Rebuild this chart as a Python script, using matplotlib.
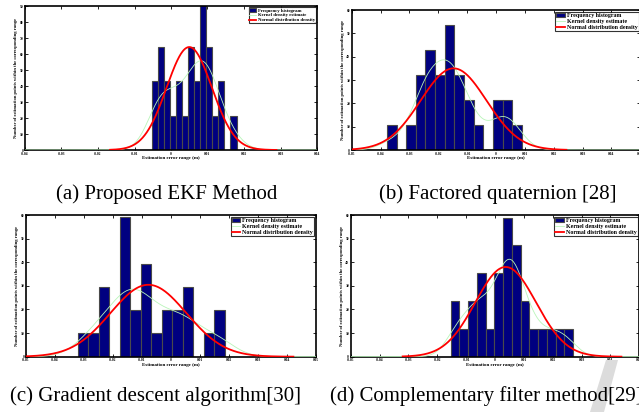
import numpy as np
import matplotlib
matplotlib.use("Agg")
import matplotlib.pyplot as plt
from matplotlib.ticker import FuncFormatter, MultipleLocator
from matplotlib.patches import Polygon

plt.rcParams['font.family'] = ['Liberation Serif', 'DejaVu Serif']

W, H = 639, 412

# histogram counts per bin, first bin edge and bin width (m)
counts_a = [2, 3, 2, 1, 2, 1, 3, 2, 5, 3, 1, 2, 0, 1]
counts_b = [1, 0, 1, 3, 4, 3, 5, 3, 2, 1, 0, 2, 2, 1]
counts_c = [1, 1, 3, 0, 6, 2, 4, 1, 2, 2, 3, 0, 1, 2]
counts_d = [2, 1, 2, 3, 1, 3, 5, 4, 2, 1, 1, 1, 1, 1]
start = {'a': -0.00529, 'b': -0.0378, 'c': -0.0321, 'd': -0.01534}
width = {'a': 0.00166, 'b': 0.00334, 'c': 0.00362, 'd': 0.003032}

# fitted normal: mean, std, curve x range
normal_mu = {'a': 0.0050, 'b': -0.0147, 'c': -0.0078, 'd': 0.0037}
normal_sd = {'a': 0.0062, 'b': 0.0114, 'c': 0.0131, 'd': 0.0105}
normal_rng = {'a': (-0.0167, 0.0289), 'b': (-0.054, 0.0244),
              'c': (-0.058, 0.0422), 'd': (-0.032, 0.0438)}
kde_bw = {'a': 0.0035, 'b': 0.0045, 'c': 0.006, 'd': 0.004}

captions = ["(a) Proposed EKF Method", "(b) Factored quaternion [28]",
            "(c) Gradient descent algorithm[30]", "(d) Complementary filter method[29]"]

# axes boxes in pixels: left, right, top, bottom
boxes = {'a': (25, 317, 6, 150), 'b': (351.7, 640.3, 10, 150),
         'c': (26, 316, 215, 356.7), 'd': (350.7, 639.3, 215, 356.7)}
xlims = {'a': 0.04, 'b': 0.05, 'c': 0.05, 'd': 0.05}
ylims = {'a': 90, 'b': 60, 'c': 60, 'd': 60}
leg_fs = {'a': 3.4, 'b': 4.3, 'c': 4.3, 'd': 4.3}
all_counts = {'a': counts_a, 'b': counts_b, 'c': counts_c, 'd': counts_d}

fig = plt.figure(figsize=(W / 100, H / 100), dpi=100)

def fmt(v, pos):
    return '0' if abs(v) < 1e-9 else '%.2f' % v

for key in 'abcd':
    l, r, t, b = boxes[key]
    ax = fig.add_axes([l / W, 1 - b / H, (r - l) / W, (b - t) / H])
    cnt = np.array(all_counts[key], dtype=float)
    bw = width[key]
    edges = start[key] + bw * np.arange(len(cnt))
    dens = cnt / (cnt.sum() * bw)
    hb = ax.bar(edges, dens, width=bw, align='edge', color='#000080',
                edgecolor='#4a4a4a', linewidth=0.8, zorder=2)

    centers = edges + bw / 2
    xs = np.linspace(-xlims[key], xlims[key], 600)
    h = kde_bw[key]
    kde = (cnt[:, None] * np.exp(-0.5 * ((xs[None, :] - centers[:, None]) / h) ** 2)).sum(0)
    kde /= cnt.sum() * h * np.sqrt(2 * np.pi)
    hk, = ax.plot(xs, kde, color='#b8f5b8', lw=0.6, zorder=3)

    mu, sd = normal_mu[key], normal_sd[key]
    xn = np.linspace(*normal_rng[key], 400)
    yn = np.exp(-0.5 * ((xn - mu) / sd) ** 2) / (sd * np.sqrt(2 * np.pi))
    hn, = ax.plot(xn, yn, color='red', lw=1.3, zorder=4)

    ax.set_xlim(-xlims[key], xlims[key])
    ax.set_ylim(0, ylims[key])
    ax.xaxis.set_major_locator(MultipleLocator(0.01))
    ax.yaxis.set_major_locator(MultipleLocator(10))
    ax.xaxis.set_major_formatter(FuncFormatter(fmt))
    ax.tick_params(direction='in', length=2, width=0.6, labelsize=2.6, pad=1.2,
                   top=True, right=True)
    for lab in ax.get_xticklabels() + ax.get_yticklabels():
        lab.set_fontweight('bold')
    for sp in ax.spines.values():
        sp.set_linewidth(1.2)
    ax.set_xlabel('Estimation error range (m)', fontsize=3.6, fontweight='bold', labelpad=0.5)
    ax.set_ylabel('Number of estimation points within the corresponding range',
                  fontsize=3.3, fontweight='bold', labelpad=1)
    leg = ax.legend([hb, hk, hn],
                    ['Frequency histogram', 'Kernel density estimate', 'Normal distribution density'],
                    loc='upper right', frameon=True, fancybox=False,
                    borderpad=0.2, labelspacing=0.1, handlelength=1.4, handletextpad=0.3,
                    borderaxespad=0.3, prop={'weight': 'bold', 'size': leg_fs[key]})
    leg.get_frame().set_edgecolor('black')
    leg.get_frame().set_linewidth(0.8)

# faint grey watermark stroke, lower right corner
wm = [(606 / W, 1 - 360 / H), (618 / W, 1 - 360 / H),
      (604 / W, 1 - 412 / H), (590 / W, 1 - 412 / H)]
fig.patches.append(Polygon(wm, closed=True, transform=fig.transFigure,
                           facecolor='#dcdcdc', edgecolor='none', zorder=0))

fig.text(167 / W, 1 - 194 / H, captions[0], ha='center', va='center', fontsize=15)
fig.text(498 / W, 1 - 194 / H, captions[1], ha='center', va='center', fontsize=15)
fig.text(10 / W, 1 - 396 / H, captions[2], ha='left', va='center', fontsize=15)
fig.text(330 / W, 1 - 396 / H, captions[3], ha='left', va='center', fontsize=15)

fig.savefig('out.png', dpi=100)
